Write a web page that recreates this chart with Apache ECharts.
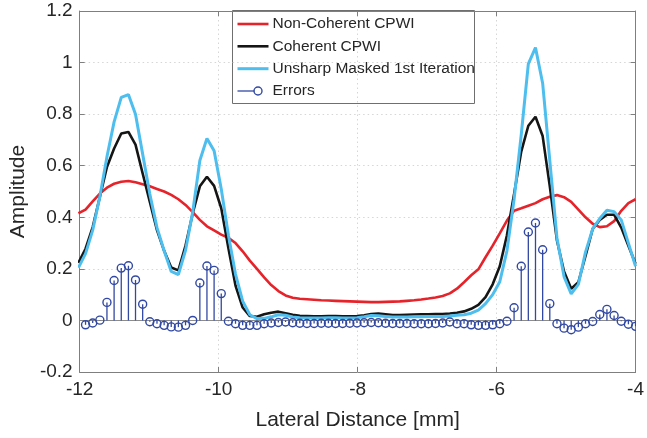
<!DOCTYPE html>
<html>
<head>
<meta charset="utf-8">
<script src="https://cdn.jsdelivr.net/npm/echarts@6/dist/echarts.min.js"></script>
<style>
html,body{margin:0;padding:0;background:#fff;}
#chart{width:647px;height:438px;}
</style>
</head>
<body>
<div id="chart"></div>
<script>
// ---- data ----
const lateralMm = [-11.915,-11.812,-11.709,-11.607,-11.504,-11.401,-11.298,-11.196,-11.093,-10.990,
  -10.887,-10.784,-10.682,-10.579,-10.476,-10.373,-10.270,-10.168,-10.065,-9.962,
  -9.859,-9.757,-9.654,-9.551,-9.448,-9.345,-9.243,-9.140,-9.037,-8.934,
  -8.832,-8.729,-8.626,-8.523,-8.420,-8.318,-8.215,-8.112,-8.009,-7.906,
  -7.804,-7.701,-7.598,-7.495,-7.393,-7.290,-7.187,-7.084,-6.981,-6.879,
  -6.776,-6.673,-6.570,-6.468,-6.365,-6.262,-6.159,-6.056,-5.954,-5.851,
  -5.748,-5.645,-5.543,-5.440,-5.337,-5.234,-5.131,-5.029,-4.926,-4.823,
  -4.720,-4.617,-4.515,-4.412,-4.309,-4.206,-4.103,-4.000];
// sample just left of the axis (clipped by the plot box)
const edgeLateral = -12.018;

const nonCoherent = [0.43,0.462,0.492,0.515,0.53,0.538,0.541,0.536,0.528,0.52,
  0.51,0.50,0.487,0.47,0.448,0.42,0.39,0.365,0.349,0.333,
  0.32,0.30,0.268,0.232,0.2,0.167,0.137,0.114,0.097,0.088,
  0.084,0.082,0.08,0.078,0.077,0.076,0.075,0.074,0.073,0.072,
  0.071,0.071,0.072,0.073,0.074,0.076,0.078,0.081,0.085,0.089,
  0.095,0.105,0.123,0.148,0.175,0.198,0.245,0.29,0.338,0.387,
  0.425,0.435,0.445,0.455,0.47,0.48,0.486,0.478,0.46,0.43,
  0.40,0.375,0.362,0.365,0.385,0.425,0.455,0.47];
const coherent = [0.278,0.362,0.479,0.595,0.667,0.725,0.731,0.682,0.57,0.46,
  0.35,0.27,0.205,0.194,0.29,0.415,0.52,0.557,0.522,0.435,
  0.28,0.135,0.05,0.017,0.014,0.024,0.03,0.034,0.028,0.022,
  0.018,0.017,0.016,0.016,0.017,0.017,0.016,0.016,0.017,0.02,
  0.025,0.027,0.024,0.021,0.021,0.022,0.023,0.024,0.024,0.025,
  0.025,0.027,0.03,0.035,0.045,0.06,0.09,0.14,0.21,0.33,
  0.49,0.655,0.755,0.79,0.715,0.52,0.31,0.19,0.123,0.148,
  0.25,0.355,0.39,0.41,0.41,0.36,0.29,0.22];
const unsharp = [0.259,0.35,0.48,0.635,0.77,0.865,0.876,0.80,0.645,0.49,
  0.36,0.27,0.19,0.178,0.272,0.42,0.62,0.706,0.658,0.51,
  0.33,0.18,0.075,0.022,0.007,0.008,0.014,0.022,0.02,0.013,
  0.01,0.009,0.009,0.009,0.01,0.01,0.009,0.009,0.01,0.014,
  0.019,0.018,0.015,0.013,0.013,0.013,0.014,0.014,0.015,0.015,
  0.015,0.017,0.02,0.022,0.028,0.04,0.065,0.10,0.15,0.27,
  0.47,0.72,0.995,1.058,0.92,0.62,0.32,0.17,0.103,0.14,
  0.265,0.355,0.395,0.427,0.422,0.39,0.30,0.21];
const errors = [-0.017,-0.010,0.001,0.070,0.155,0.203,0.212,0.157,0.063,-0.005,
  -0.013,-0.019,-0.025,-0.026,-0.019,0.000,0.145,0.211,0.194,0.104,
  -0.003,-0.013,-0.019,-0.019,-0.019,-0.013,-0.010,-0.008,-0.006,-0.009,
  -0.011,-0.012,-0.012,-0.011,-0.011,-0.012,-0.012,-0.011,-0.010,-0.009,
  -0.008,-0.009,-0.011,-0.012,-0.012,-0.012,-0.013,-0.013,-0.013,-0.012,
  -0.010,-0.006,-0.013,-0.013,-0.017,-0.019,-0.019,-0.017,-0.013,-0.003,
  0.049,0.210,0.343,0.378,0.274,0.065,-0.013,-0.030,-0.036,-0.026,
  -0.013,-0.004,0.023,0.043,0.019,-0.003,-0.015,-0.023];
const edgeValues = {nonCoherent: 0.4155, coherent: 0.223, unsharp: 0.2045};

const seriesNames = ['Non-Coherent CPWI','Coherent CPWI','Unsharp Masked 1st Iteration','Errors'];
const xTicks = [-12,-10,-8,-6,-4];
const yTicks = [-0.2,0,0.2,0.4,0.6,0.8,1,1.2];
const xLabel = 'Lateral Distance [mm]';
const yLabel = 'Amplitude';

// ---- build ----
function pairs(vals, edge){
  const out = [[edgeLateral, edge]];
  for (let i = 0; i < lateralMm.length; i++) out.push([lateralMm[i], vals[i]]);
  return out;
}
const FONT = "'Liberation Sans', Arial, Helvetica, sans-serif";
const TXT = '#262626';
const AX = '#7f7f7f';
const GRIDC = '#d6d6d6';
const COLORS = ['#e5232a', '#151515', '#4dbeee', '#3249a3'];
const STEM_R = 4;

const chart = echarts.init(document.getElementById('chart'), null, {renderer: 'canvas'});

const commonX = {
  type: 'value', min: xTicks[0], max: xTicks[xTicks.length-1], interval: 2,
  axisLine: {show: true, onZero: false, lineStyle: {color: AX, width: 1}},
  axisTick: {show: true, inside: true, length: 5, lineStyle: {color: AX}},
};
const commonY = {
  type: 'value', min: yTicks[0], max: yTicks[yTicks.length-1], interval: 0.2,
  axisLine: {show: true, onZero: false, lineStyle: {color: AX, width: 1}},
  axisTick: {show: true, inside: true, length: 5, lineStyle: {color: AX}},
};

const option = {
  animation: false,
  backgroundColor: '#ffffff',
  grid: {left: 77, right: 6, top: 11, bottom: 66, containLabel: false},
  xAxis: [
    Object.assign({}, commonX, {
      position: 'bottom',
      axisLabel: {color: TXT, fontSize: 19, fontFamily: FONT, margin: 8,
        formatter: v => { const t = xTicks.find(t => Math.abs(t - v) < 1e-9); return String(t !== undefined ? t : v); }},
      splitLine: {show: true, lineStyle: {color: GRIDC, type: [1.5, 3], width: 1}},
      name: xLabel, nameLocation: 'middle', nameGap: 38,
      nameTextStyle: {color: TXT, fontSize: 21, fontFamily: FONT}
    }),
    Object.assign({}, commonX, {
      position: 'top', axisLabel: {show: false}, splitLine: {show: false}
    })
  ],
  yAxis: [
    Object.assign({}, commonY, {
      position: 'left',
      axisLabel: {color: TXT, fontSize: 19, fontFamily: FONT, margin: 7,
        formatter: v => { const t = yTicks.find(t => Math.abs(t - v) < 1e-9); return String(t !== undefined ? t : v); }},
      splitLine: {show: true, lineStyle: {color: GRIDC, type: [1.5, 3], width: 1}},
      name: yLabel, nameLocation: 'middle', nameGap: 48,
      nameTextStyle: {color: TXT, fontSize: 21, fontFamily: FONT}
    }),
    Object.assign({}, commonY, {
      position: 'right', axisLabel: {show: false}, splitLine: {show: false}
    })
  ],
  series: [
    {name: seriesNames[0], type: 'line', data: pairs(nonCoherent, edgeValues.nonCoherent),
      showSymbol: false, symbol: 'none', clip: true, z: 2,
      lineStyle: {color: COLORS[0], width: 2.6}},
    {name: seriesNames[1], type: 'line', data: pairs(coherent, edgeValues.coherent),
      showSymbol: false, symbol: 'none', clip: true, z: 3,
      lineStyle: {color: COLORS[1], width: 2.6}},
    {name: seriesNames[2], type: 'line', data: pairs(unsharp, edgeValues.unsharp),
      showSymbol: false, symbol: 'none', clip: true, z: 4,
      lineStyle: {color: COLORS[2], width: 3}},
    {name: seriesNames[3], type: 'custom', z: 5, clip: true,
      data: lateralMm.map((x, i) => [x, errors[i]]),
      encode: {x: 0, y: 1},
      renderItem: function (params, api) {
        const p = api.coord([api.value(0), api.value(1)]);
        const b = api.coord([api.value(0), 0]);
        return {type: 'group', children: [
          {type: 'line', shape: {x1: p[0], y1: b[1], x2: p[0], y2: p[1]},
            style: {stroke: COLORS[3], lineWidth: 1.3}},
          {type: 'circle', shape: {cx: p[0], cy: p[1], r: STEM_R},
            style: {fill: 'none', stroke: COLORS[3], lineWidth: 1.4}}
        ]};
      },
      markLine: {silent: true, symbol: 'none', z: 1, label: {show: false},
        lineStyle: {color: '#8c8c8c', type: 'solid', width: 1},
        data: [{yAxis: 0}]}
    }
  ],
  graphic: [{
    type: 'group', left: 232, top: 10, z: 100,
    children: [
      {type: 'rect', shape: {x: 0, y: 0, width: 242, height: 93},
        style: {fill: '#ffffff', stroke: '#6f6f6f', lineWidth: 1}},
      {type: 'line', shape: {x1: 5, y1: 13.5, x2: 36, y2: 13.5}, style: {stroke: COLORS[0], lineWidth: 2.6}},
      {type: 'line', shape: {x1: 5, y1: 35.8, x2: 36, y2: 35.8}, style: {stroke: COLORS[1], lineWidth: 2.6}},
      {type: 'line', shape: {x1: 5, y1: 58.2, x2: 36, y2: 58.2}, style: {stroke: COLORS[2], lineWidth: 3}},
      {type: 'line', shape: {x1: 5, y1: 80.5, x2: 22, y2: 80.5}, style: {stroke: COLORS[3], lineWidth: 1.3}},
      {type: 'circle', shape: {cx: 25.5, cy: 80.5, r: STEM_R}, style: {fill: 'none', stroke: COLORS[3], lineWidth: 1.4}},
      {type: 'text', x: 40, y: 13.5, style: {text: seriesNames[0], fill: TXT, fontSize: 15.5, fontFamily: FONT, verticalAlign: 'middle'}},
      {type: 'text', x: 40, y: 35.8, style: {text: seriesNames[1], fill: TXT, fontSize: 15.5, fontFamily: FONT, verticalAlign: 'middle'}},
      {type: 'text', x: 40, y: 58.2, style: {text: seriesNames[2], fill: TXT, fontSize: 15.5, fontFamily: FONT, verticalAlign: 'middle'}},
      {type: 'text', x: 40, y: 80.5, style: {text: seriesNames[3], fill: TXT, fontSize: 15.5, fontFamily: FONT, verticalAlign: 'middle'}}
    ]
  }]
};
chart.setOption(option);
</script>
</body>
</html>
